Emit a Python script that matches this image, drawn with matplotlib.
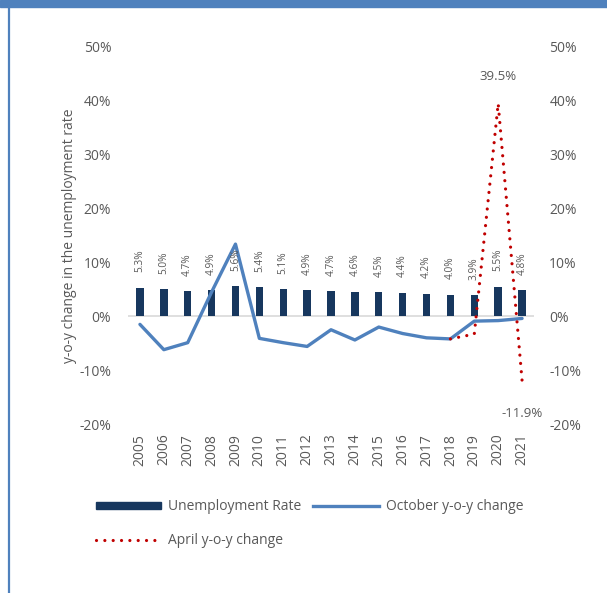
import matplotlib.pyplot as plt
from matplotlib.patches import Rectangle
from matplotlib.lines import Line2D
import numpy as np

plt.rcParams['font.family'] = ['Open Sans', 'DejaVu Sans']

years = [str(y) for y in range(2005, 2022)]
unemployment = [5.3, 5.0, 4.7, 4.9, 5.6, 5.4, 5.1, 4.9, 4.7, 4.6, 4.5, 4.4, 4.2, 4.0, 3.9, 5.5, 4.8]
october_yoy = [-1.5, -6.2, -4.9, 4.5, 13.4, -4.1, -4.9, -5.6, -2.5, -4.4, -2.0, -3.2, -4.0, -4.2, -0.9, -0.8, -0.4]
april_years = ['2018', '2019', '2020', '2021']
april_yoy = [-4.2, -3.3, 39.5, -11.9]

grey = '#595959'
navy = '#17375E'
blue = '#4F81BD'
red = '#C00000'

fig = plt.figure(figsize=(6.07, 5.93), dpi=100)

# frame decoration: top band and left rule
fig.patches.append(Rectangle((0, 1 - 7 / 593), 1, 7 / 593, transform=fig.transFigure,
                             color=blue, zorder=0))
fig.add_artist(Line2D([9 / 607, 9 / 607], [0, 1 - 7 / 593], transform=fig.transFigure,
                      color=blue, lw=1.6))

ax = fig.add_axes([128 / 607, 1 - 424 / 593, 406 / 607, 377 / 593])
x = np.arange(len(years))
xa = np.array([years.index(y) for y in april_years])

bars = ax.bar(x, unemployment, width=0.31, color=navy, zorder=2)
ax.axhline(0, color='#D9D9D9', lw=1.2, zorder=1)
ax.plot(x, october_yoy, color=blue, lw=2.4, solid_capstyle='round', zorder=3)
ax.plot(xa, april_yoy, color=red, lw=2.3, linestyle=(0, (0.01, 2.6)),
        dash_capstyle='round', zorder=4)

for xi, v in zip(x, unemployment):
    ax.annotate(f'{v:.1f}%', (xi, v), xytext=(0, 11), textcoords='offset points',
                rotation=90, ha='center', va='bottom', fontsize=7.3, color=grey)

ax.annotate(f'{april_yoy[2]:.1f}%', (xa[2], april_yoy[2]), xytext=(0, 15),
            textcoords='offset points', ha='center', va='bottom', fontsize=9.5, color=grey)
ax.annotate(f'{april_yoy[3]:.1f}%', (xa[3], april_yoy[3]), xytext=(0, -19),
            textcoords='offset points', ha='center', va='top', fontsize=9.5, color=grey)

ax.set_xlim(-0.5, len(years) - 0.5)
ax.set_ylim(-20, 50)
yt = np.arange(-20, 51, 10)
ax.set_yticks(yt)
ax.set_yticklabels([f'{t}%' for t in yt])
ax.set_xticks(x)
ax.set_xticklabels(years, rotation=90)
ax.tick_params(axis='y', length=0, pad=12, labelsize=10, labelcolor=grey)
ax.tick_params(axis='x', length=0, pad=7, labelsize=10, labelcolor=grey)
for s in ax.spines.values():
    s.set_visible(False)
ax.set_ylabel('y-o-y change in the unemployment rate', fontsize=10, color=grey, labelpad=2)

ax2 = ax.twinx()
ax2.set_ylim(-20, 50)
ax2.set_yticks(yt)
ax2.set_yticklabels([f'{t}%' for t in yt])
ax2.tick_params(axis='y', length=0, pad=11, labelsize=10, labelcolor=grey)
for s in ax2.spines.values():
    s.set_visible(False)

handles = [Rectangle((0, 0), 1, 1, color=navy),
           Line2D([], [], color=red, lw=2.3, linestyle=(0, (0.01, 2.6)), dash_capstyle='round'),
           Line2D([], [], color=blue, lw=2.4)]
labels = ['Unemployment Rate', 'April y-o-y change', 'October y-o-y change']
leg = fig.legend(handles, labels, ncol=2, loc='upper left', bbox_to_anchor=(83 / 607, 1 - 487 / 593),
                 frameon=False, fontsize=10, handlelength=4.7, handleheight=0.45,
                 labelspacing=1.35, columnspacing=0.9, handletextpad=0.5)
for t in leg.get_texts():
    t.set_color(grey)

fig.savefig('out.png', dpi=100)
